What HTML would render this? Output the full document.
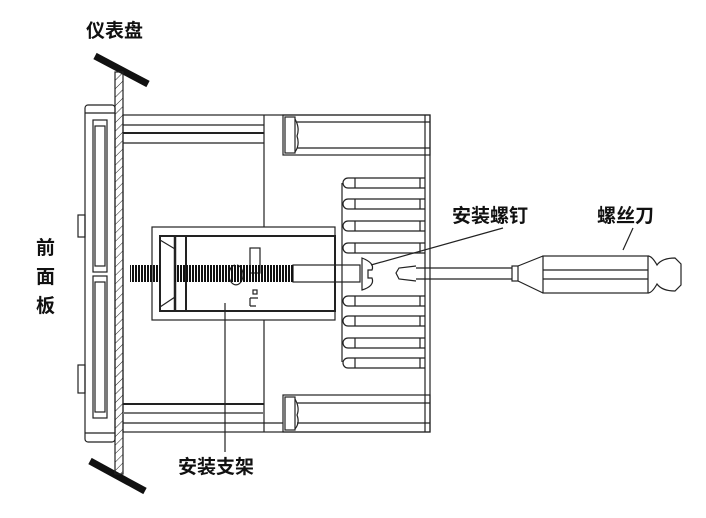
<!DOCTYPE html>
<html><head><meta charset="utf-8"><style>
html,body{margin:0;padding:0;background:#fff;}
svg{display:block;}
text{font-family:"Liberation Sans","Noto Sans CJK SC",sans-serif;font-size:19px;font-weight:bold;fill:#111;}
</style></head><body>
<svg width="706" height="518" viewBox="0 0 706 518" xmlns="http://www.w3.org/2000/svg">
<defs>
<pattern id="h" width="6" height="6" patternUnits="userSpaceOnUse" patternTransform="rotate(45)">
<line x1="0" y1="0" x2="0" y2="6" stroke="#222" stroke-width="1"/>
</pattern>
<pattern id="th" width="3" height="10" patternUnits="userSpaceOnUse">
<rect width="2" height="10" fill="#111"/>
</pattern>
</defs>
<text x="86" y="37">仪表盘</text>
<text x="36" y="254">前</text>
<text x="36" y="283">面</text>
<text x="36" y="312">板</text>
<text x="452" y="222">安装螺钉</text>
<text x="597" y="222">螺丝刀</text>
<text x="178" y="473">安装支架</text>

<line x1="95" y1="56" x2="148" y2="84" stroke="#111" stroke-width="7"/>
<line x1="90" y1="461" x2="145" y2="491" stroke="#111" stroke-width="7"/>
<rect x="115" y="72" width="8" height="402" fill="url(#h)" stroke="#222" stroke-width="1.2"/>

<g fill="none" stroke="#222" stroke-width="1.2">
<rect x="85" y="105" width="30" height="337" rx="3"/>
<line x1="85" y1="113" x2="115" y2="113"/>
<line x1="85" y1="433" x2="115" y2="433"/>
<rect x="93" y="120" width="14" height="152"/>
<rect x="95" y="126" width="10" height="140"/>
<rect x="93" y="276" width="14" height="142"/>
<rect x="95" y="282" width="10" height="130"/>
<rect x="78" y="215" width="7" height="22"/>
<rect x="78" y="365" width="7" height="28"/>

<rect x="123" y="115" width="307" height="317"/>
<line x1="425" y1="115" x2="425" y2="432"/>
<line x1="264" y1="115" x2="264" y2="227"/>
<line x1="264" y1="320" x2="264" y2="432"/>
<line x1="123" y1="125" x2="264" y2="125"/>
<line x1="123" y1="133" x2="264" y2="133" stroke-width="2"/>
<line x1="123" y1="143" x2="264" y2="143"/>
<line x1="123" y1="404" x2="264" y2="404" stroke-width="2"/>
<line x1="123" y1="413" x2="264" y2="413" stroke="#777" stroke-width="2"/>
<line x1="123" y1="423" x2="283" y2="423"/>
<rect x="283" y="115" width="147" height="40"/>
<rect x="285" y="117" width="10" height="36"/>
<path d="M295 119 Q300 128 297 136 Q300 145 295 152"/>
<line x1="297" y1="122" x2="430" y2="122"/>
<line x1="297" y1="148" x2="430" y2="148"/>
<rect x="283" y="395" width="147" height="37"/>
<rect x="285" y="397" width="10" height="33"/>
<path d="M295 399 Q300 408 297 415 Q300 423 295 429"/>
<line x1="297" y1="403" x2="430" y2="403"/>
<line x1="297" y1="423" x2="430" y2="423"/>

<g id="fin">
<path d="M355 178 H348 A5 5 0 0 0 348 188 H355"/>
<line x1="355" y1="178" x2="425" y2="178"/>
<line x1="355" y1="188" x2="425" y2="188"/>
<line x1="355" y1="178" x2="355" y2="188"/>
<line x1="420" y1="178" x2="420" y2="188"/>
</g>
<use href="#fin" y="21"/>
<use href="#fin" y="43"/>
<use href="#fin" y="65"/>
<use href="#fin" y="118"/>
<use href="#fin" y="138"/>
<use href="#fin" y="160"/>
<use href="#fin" y="180"/>
<line x1="342" y1="183" x2="342" y2="362"/>

<rect x="152" y="227" width="183" height="93" fill="#fff"/>
<rect x="160" y="236" width="175" height="75" stroke-width="2"/>
<path d="M160 240 L175 249 L175 238"/>
<path d="M160 307 L175 297 L175 309"/>
<line x1="175" y1="236" x2="175" y2="311" stroke-width="2.5"/>
<line x1="186" y1="236" x2="186" y2="311" stroke-width="2"/>
<rect x="293" y="265" width="42" height="17"/>
<rect x="335" y="265" width="25" height="17"/>
<path d="M362 258 Q375 263 372 270 L368 270 L368 278 L372 278 Q375 286 362 290 Z"/>
<rect x="250" y="248" width="10" height="25"/>
<path d="M235 265 a7 10 0 1 0 2 0"/>
<path d="M250 298 h8 M250 298 v8 M250 306 h6"/>
<rect x="253" y="290" width="4" height="4"/>
</g>
<rect x="130" y="265" width="30" height="17" fill="url(#th)"/>
<rect x="175" y="265" width="118" height="17" fill="url(#th)"/>

<g fill="none" stroke="#222" stroke-width="1.2">
<path d="M416 266 L399 268 L396 273 L399 279 L416 281"/>
<line x1="416" y1="268" x2="512" y2="268"/>
<line x1="416" y1="279" x2="512" y2="279"/>
<rect x="512" y="266" width="6" height="15"/>
<path d="M518 266 L543 256 M518 281 L543 293"/>
<rect x="543" y="256" width="105" height="37"/>
<line x1="543" y1="270" x2="648" y2="270"/>
<line x1="543" y1="279" x2="648" y2="279"/>
<path d="M648 256 Q652 256 657 265 Q662 258 675 258 L681 264 L681 285 L675 291 Q662 291 657 284 Q652 293 648 293"/>
<line x1="371" y1="265" x2="503" y2="228"/>
<line x1="623" y1="250" x2="633" y2="228"/>
<line x1="225" y1="303" x2="225" y2="452"/>
</g>
</svg>
</body></html>
